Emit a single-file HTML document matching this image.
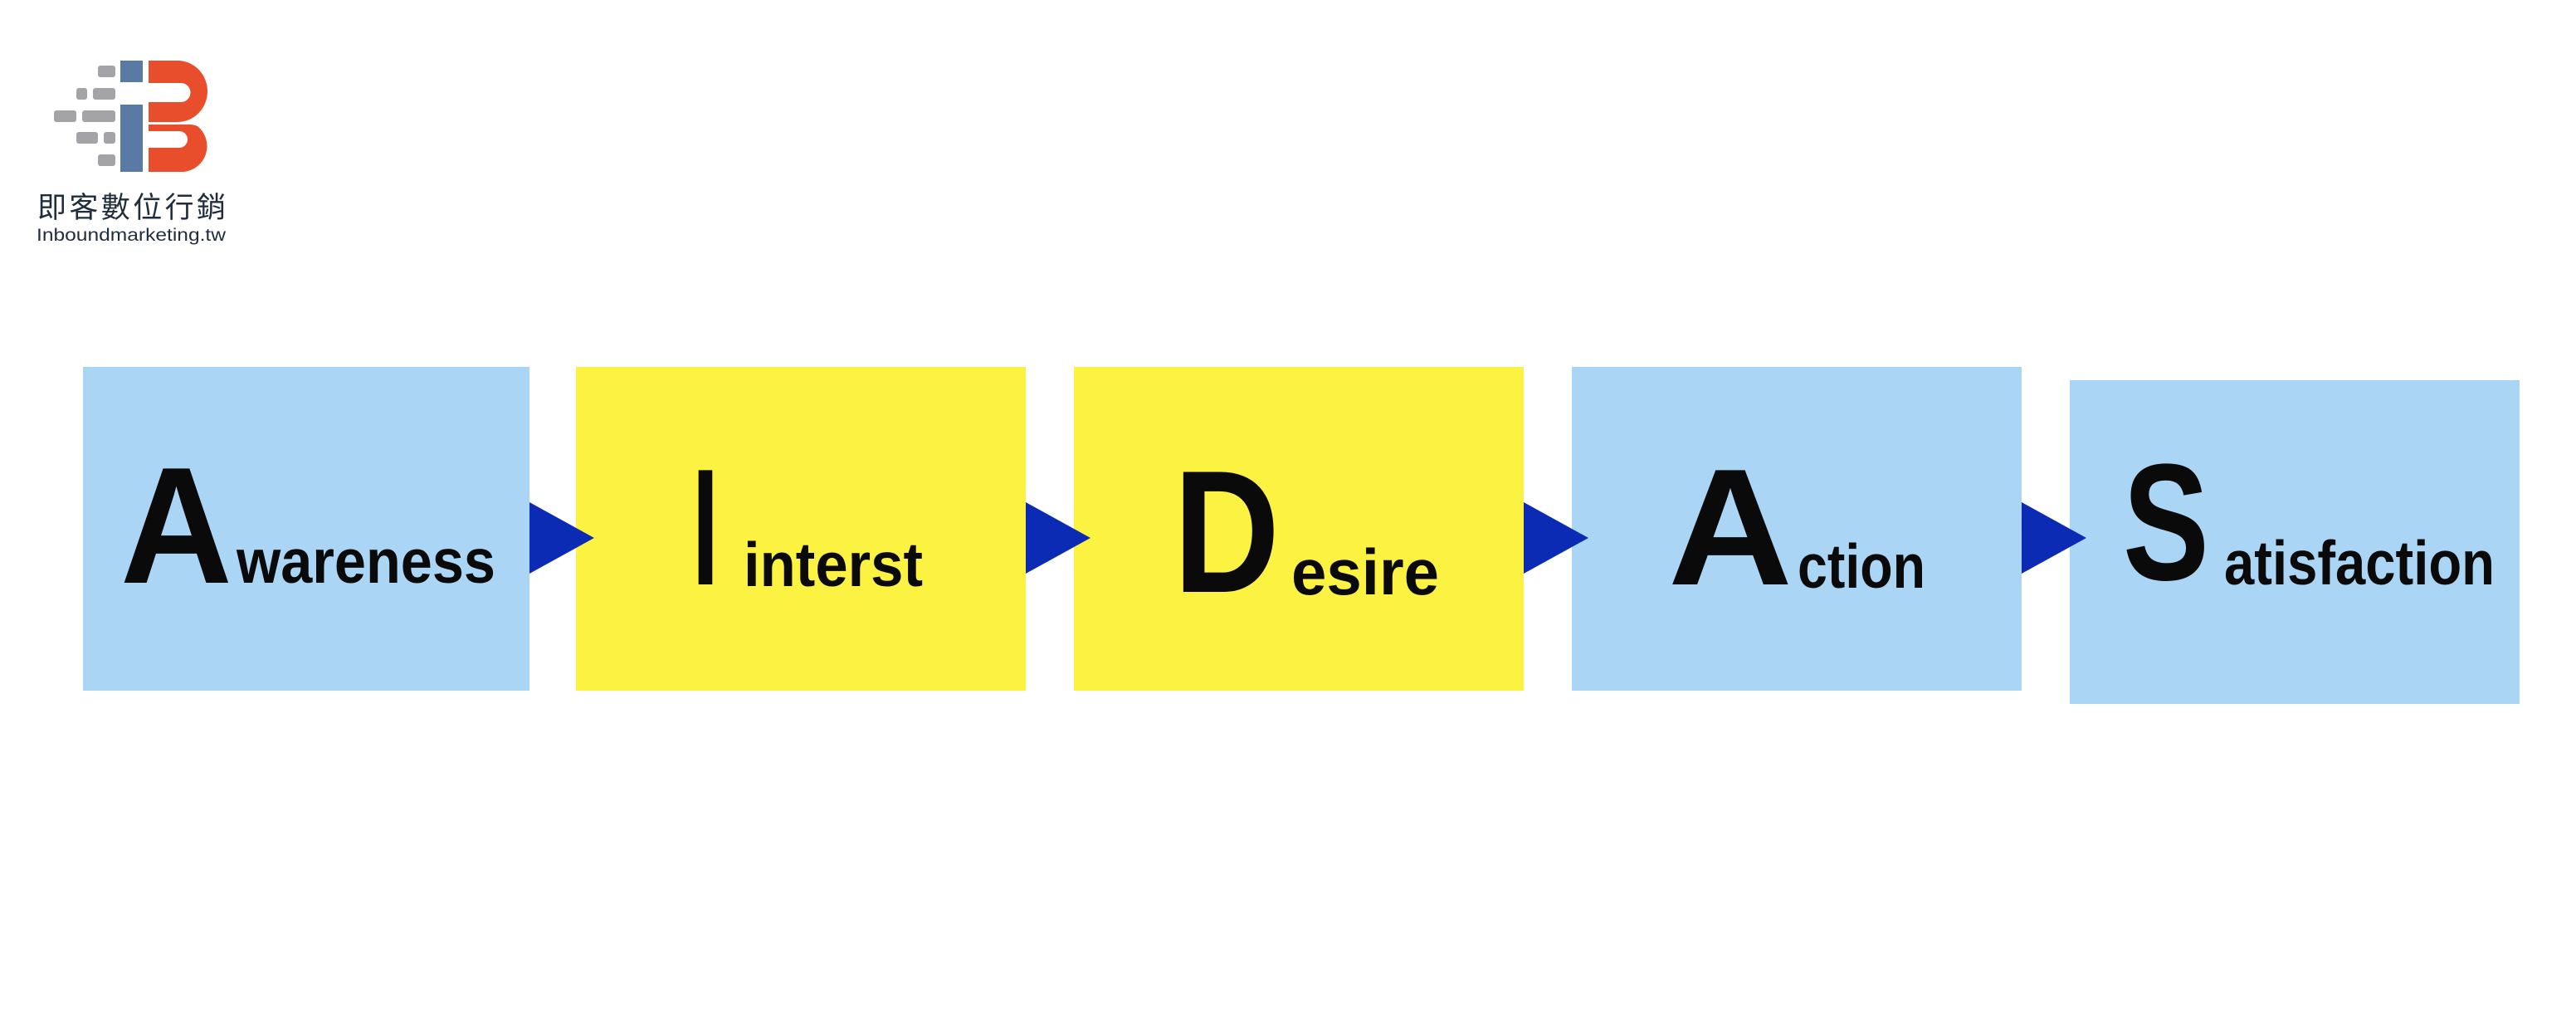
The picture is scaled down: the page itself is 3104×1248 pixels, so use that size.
<!DOCTYPE html>
<html><head><meta charset="utf-8"><style>
html,body{margin:0;padding:0;background:#fff;}
svg{display:block}
</style></head><body>
<svg width="3104" height="1248" viewBox="0 0 3104 1248" xmlns="http://www.w3.org/2000/svg">
<rect width="3104" height="1248" fill="#fff"/>
<!-- logo -->
<g fill="#a4a4a8">
<rect x="118" y="79" width="21" height="14" rx="3"/>
<rect x="92" y="106" width="13" height="14" rx="3"/>
<rect x="112" y="106" width="27" height="14" rx="3"/>
<rect x="65" y="133" width="27" height="14" rx="3"/>
<rect x="99" y="133" width="40" height="14" rx="3"/>
<rect x="92" y="159" width="26" height="14" rx="3"/>
<rect x="125" y="159" width="14" height="14" rx="3"/>
<rect x="118" y="186" width="21" height="14" rx="3"/>
</g>
<rect x="145" y="73" width="27" height="26" fill="#5a7aa6"/>
<rect x="145" y="126" width="27" height="81" fill="#5a7aa6"/>
<path d="M179,73 H214 A36,37 0 0 1 214,147 H179 Z M179,100 V123 H218 A11.5,11.5 0 0 0 218,100 Z" fill="#e84e2c" fill-rule="evenodd"/>
<path d="M179,150 H225 A29,29 0 0 1 238,152 A31,31 0 0 1 221,207 H179 Z M179,158 V178 H216 A10,10 0 0 0 216,158 Z" fill="#e84e2c" fill-rule="evenodd"/>
<text x="45" y="262" font-family="'Liberation Sans','Noto Sans CJK TC',sans-serif" font-size="35" fill="#1f2d3d" textLength="227" lengthAdjust="spacing">即客數位行銷</text>
<text x="44" y="290" font-family="'Liberation Sans',sans-serif" font-size="21" fill="#1f2d3d" textLength="228" lengthAdjust="spacingAndGlyphs">Inboundmarketing.tw</text>

<!-- boxes -->
<rect x="100" y="442" width="538" height="390" fill="#aad5f5"/>
<rect x="694" y="442" width="542" height="390" fill="#fcf242"/>
<rect x="1294" y="442" width="542" height="390" fill="#fcf242"/>
<rect x="1894" y="442" width="542" height="390" fill="#aad5f5"/>
<rect x="2494" y="458" width="542" height="390" fill="#aad5f5"/>

<!-- arrows -->
<g fill="#0c2bb5">
<polygon points="638,605 716,648 638,691"/>
<polygon points="1236,605 1314,648 1236,691"/>
<polygon points="1836,605 1914,648 1836,691"/>
<polygon points="2436,605 2514,648 2436,691"/>
</g>

<g font-family="'Liberation Sans',sans-serif" font-weight="bold" fill="#0a0a0a">
<text x="145" y="702" font-size="200" textLength="135" lengthAdjust="spacingAndGlyphs">A</text>
<text x="285" y="702" font-size="75" textLength="312" lengthAdjust="spacingAndGlyphs">wareness</text>
<text x="834" y="704" font-size="200" textLength="32" lengthAdjust="spacingAndGlyphs">I</text>
<text x="896" y="706" font-size="75" textLength="216" lengthAdjust="spacingAndGlyphs">interst</text>
<text x="1414" y="713" font-size="210" textLength="128" lengthAdjust="spacingAndGlyphs">D</text>
<text x="1556" y="716" font-size="78" textLength="178" lengthAdjust="spacingAndGlyphs">esire</text>
<text x="2010" y="704" font-size="200" textLength="150" lengthAdjust="spacingAndGlyphs">A</text>
<text x="2166" y="708" font-size="75" textLength="154" lengthAdjust="spacingAndGlyphs">ction</text>
<text x="2558" y="698" font-size="200" textLength="104" lengthAdjust="spacingAndGlyphs">S</text>
<text x="2680" y="704" font-size="75" textLength="326" lengthAdjust="spacingAndGlyphs">atisfaction</text>
</g>
</svg>
</body></html>
